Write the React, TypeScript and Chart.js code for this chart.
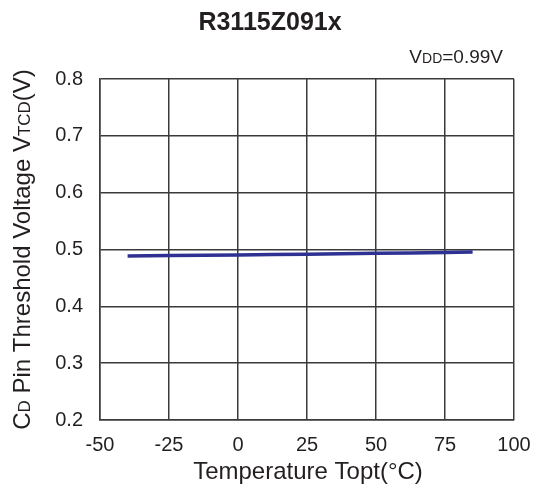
import React, { useEffect, useRef } from "react";
import { Chart, registerables } from "chart.js";

Chart.register(...registerables);

const temperatures = [-40, -25, 0, 25, 50, 75, 85];
const thresholdVoltage = [0.4887, 0.4893, 0.4905, 0.4918, 0.4932, 0.4948, 0.4956];
const xTicks = [-50, -25, 0, 25, 50, 75, 100];
const yTicks = [0.2, 0.3, 0.4, 0.5, 0.6, 0.7, 0.8];

const FONT = "'Liberation Sans', Arial, sans-serif";

type Seg = { t: string; small?: boolean };

function drawSegs(ctx: CanvasRenderingContext2D, segs: Seg[], x: number, y: number, big: number, small: number, align: "center" | "right") {
  let total = 0;
  const widths = segs.map((s) => {
    ctx.font = `${s.small ? small : big}px ${FONT}`;
    const w = ctx.measureText(s.t).width;
    total += w;
    return w;
  });
  let cx = align === "center" ? x - total / 2 : x - total;
  ctx.textBaseline = "alphabetic";
  ctx.textAlign = "left";
  segs.forEach((s, i) => {
    ctx.font = `${s.small ? small : big}px ${FONT}`;
    ctx.fillText(s.t, cx, y);
    cx += widths[i];
  });
}

const textPlugin = {
  id: "textPlugin",
  afterDraw(chart: any) {
    const ctx = chart.ctx as CanvasRenderingContext2D;
    const area = chart.chartArea;
    ctx.save();
    ctx.fillStyle = "#231f20";
    ctx.font = `bold 25px ${FONT}`;
    ctx.textAlign = "center";
    ctx.textBaseline = "middle";
    ctx.fillText("R3115Z091x", 270, 23);
    drawSegs(ctx, [{ t: "V" }, { t: "DD", small: true }, { t: "=0.99V" }], 503, 63, 19, 14, "right");
    drawSegs(ctx, [{ t: "Temperature Topt(°C)" }], 308, 479, 24, 17, "center");
    ctx.translate(30, (area.top + area.bottom) / 2);
    ctx.rotate(-Math.PI / 2);
    drawSegs(
      ctx,
      [
        { t: "C" },
        { t: "D", small: true },
        { t: " Pin Threshold Voltage V" },
        { t: "TCD", small: true },
        { t: "(V)" },
      ],
      0,
      0,
      24,
      17,
      "center"
    );
    ctx.restore();
  },
};

export default function App() {
  const ref = useRef<HTMLCanvasElement | null>(null);
  useEffect(() => {
    document.body.style.margin = "0";
    const canvas = ref.current!;
    const chart = new Chart(canvas, {
      type: "line",
      data: {
        datasets: [
          {
            data: temperatures.map((t, i) => ({ x: t, y: thresholdVoltage[i] })),
            borderColor: "#2e3192",
            borderWidth: 3.5,
            pointRadius: 0,
            tension: 0.3,
            fill: false,
          },
        ],
      },
      options: {
        responsive: false,
        animation: false,
        devicePixelRatio: 1,
        layout: { padding: { top: 79, right: 21, left: 0, bottom: 0 } },
        plugins: { legend: { display: false }, tooltip: { enabled: false } },
        scales: {
          x: {
            type: "linear",
            min: -50,
            max: 100,
            afterBuildTicks: (s: any) => {
              s.ticks = xTicks.map((v) => ({ value: v }));
            },
            afterFit: (s: any) => {
              s.height = 75;
              s.paddingLeft = 0;
              s.paddingRight = 0;
              s.paddingTop = 0;
              s.paddingBottom = 0;
            },
            ticks: {
              color: "#231f20",
              font: { family: FONT, size: 20 },
              padding: 13,
              callback: (v: any) => String(v),
            },
            grid: { color: "#3a3a3a", lineWidth: 1.5, drawTicks: false },
            border: { color: "#3a3a3a", width: 1.5 },
          },
          y: {
            type: "linear",
            min: 0.2,
            max: 0.8,
            afterBuildTicks: (s: any) => {
              s.ticks = yTicks.map((v) => ({ value: v }));
            },
            afterFit: (s: any) => {
              s.width = 100;
              s.paddingTop = 0;
              s.paddingBottom = 0;
              s.paddingLeft = 0;
              s.paddingRight = 0;
            },
            ticks: {
              color: "#231f20",
              font: { family: FONT, size: 20 },
              padding: 17,
              callback: (v: any) => Number(v).toFixed(1),
            },
            grid: { color: "#3a3a3a", lineWidth: 1.5, drawTicks: false },
            border: { color: "#3a3a3a", width: 1.5 },
          },
        },
      },
      plugins: [textPlugin],
    });
    return () => chart.destroy();
  }, []);
  return <canvas ref={ref} width={535} height={495} style={{ display: "block" }} />;
}
